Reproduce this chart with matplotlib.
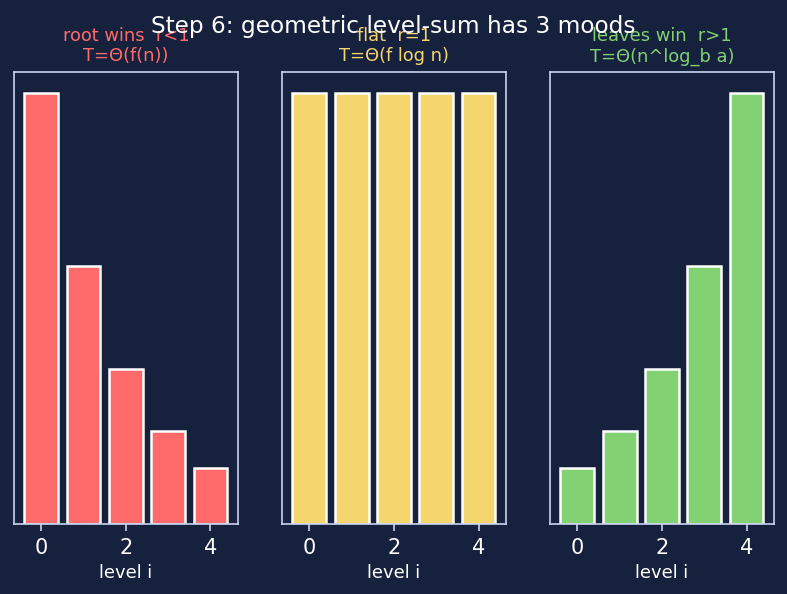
import matplotlib
matplotlib.use("Agg")
import matplotlib.pyplot as plt
import numpy as np

levels = [0, 1, 2, 3, 4]
root_vals = [1.0, 0.6, 0.36, 0.216, 0.1296]
flat_vals = [1.0, 1.0, 1.0, 1.0, 1.0]
leaf_vals = [0.1296, 0.216, 0.36, 0.6, 1.0]

titles = ["root wins  r<1\nT=\u0398(f(n))", "flat  r=1\nT=\u0398(f log n)", "leaves win  r>1\nT=\u0398(n^log_b a)"]
colors = ["#ff6b6b", "#f4d56e", "#82d173"]

bg = "#16213e"
fg = "#c9d3f0"

fig, axes = plt.subplots(1, 3, figsize=(787 / 150, 594 / 150), dpi=150)
fig.patch.set_facecolor(bg)

for ax, vals, title, c in zip(axes, [root_vals, flat_vals, leaf_vals], titles, colors):
    ax.set_facecolor(bg)
    ax.bar(levels, vals, color=c, edgecolor="white", linewidth=1.2)
    ax.set_title(title, color=c, fontsize=8.6, pad=5)
    ax.set_xlabel("level i", color="white", fontsize=8.6, labelpad=2.5)
    ax.set_yticks([])
    ax.set_xticks([0, 2, 4])
    ax.tick_params(axis="x", colors=fg, labelcolor="white", labelsize=10)
    for s in ax.spines.values():
        s.set_color(fg)

fig.suptitle("Step 6: geometric level-sum has 3 moods", color="white", fontsize=11.2, y=0.975)
fig.subplots_adjust(left=0.018, right=0.983, top=0.879, bottom=0.118, wspace=0.2)
fig.savefig("out.png", dpi=150, facecolor=bg)
